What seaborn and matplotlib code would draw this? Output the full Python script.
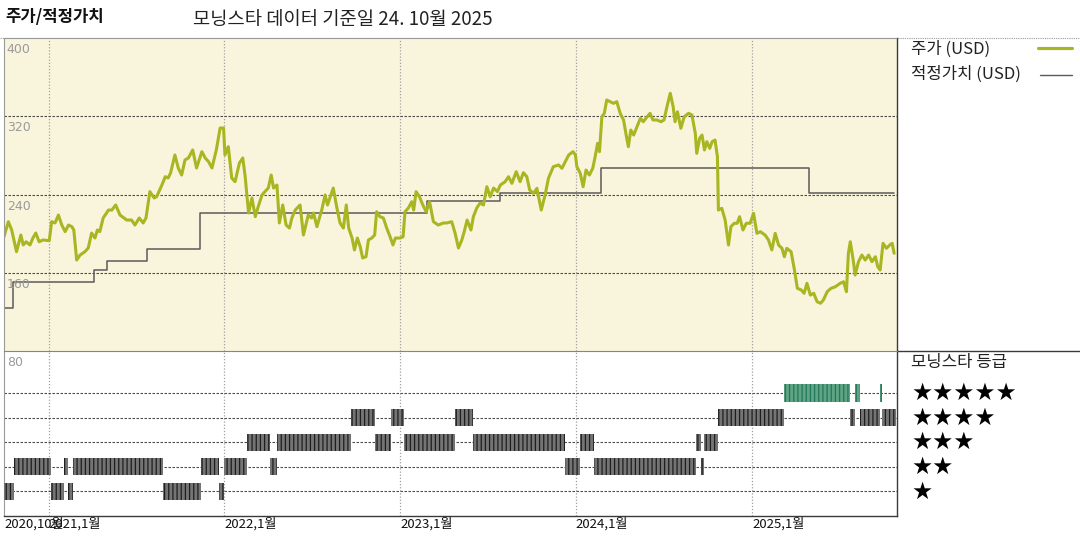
import matplotlib
matplotlib.use("Agg")
import matplotlib.pyplot as plt
import matplotlib.dates as mdates
import matplotlib.transforms as mtransforms
from matplotlib.lines import Line2D
import pandas as pd
import seaborn as sns

# ---------------- data ----------------
START_DATE = "2020-09-30"          # day 0 of all *_day arrays

price_day = [
    0, 9, 16, 26, 35, 40, 46, 54, 60, 66, 73, 81, 94, 99, 106, 113, 120, 127, 134, 141,
    145, 151, 158, 168, 175, 182, 189, 194, 199, 206, 217, 224, 232, 241, 255, 265, 272, 281, 289, 295,
    303, 312, 317, 328, 335, 341, 346, 355, 362, 369, 376, 383, 392, 400, 411, 418, 425, 432, 441, 449,
    456, 459, 466, 473, 480, 489, 496, 501, 508, 515, 522, 528, 536, 542, 549, 555, 560, 567, 572, 579,
    586, 593, 598, 605, 609, 615, 622, 632, 639, 643, 650, 660, 667, 672, 677, 684, 691, 698, 705, 711,
    716, 723, 728, 734, 740, 745, 752, 757, 764, 770, 774, 781, 788, 795, 802, 808, 813, 823, 829, 833,
    840, 847, 851, 856, 863, 870, 877, 884, 892, 902, 913, 920, 930, 937, 944, 951, 956, 962, 970, 975,
    982, 989, 996, 1003, 1010, 1017, 1025, 1031, 1041, 1048, 1055, 1064, 1072, 1079, 1086, 1092, 1100, 1107, 1116, 1124,
    1131, 1141, 1152, 1159, 1166, 1173, 1182, 1187, 1190, 1197, 1203, 1209, 1216, 1223, 1228, 1233, 1237, 1242, 1247, 1252,
    1259, 1266, 1273, 1280, 1287, 1293, 1297, 1302, 1308, 1315, 1322, 1328, 1336, 1342, 1348, 1356, 1365, 1371, 1378, 1384,
    1390, 1394, 1399, 1406, 1413, 1422, 1429, 1436, 1439, 1445, 1450, 1455, 1460, 1466, 1471, 1477, 1482, 1484, 1491, 1498,
    1505, 1510, 1517, 1523, 1528, 1535, 1542, 1550, 1557, 1564, 1571, 1581, 1588, 1595, 1602, 1609, 1616, 1621, 1626, 1635,
    1642, 1648, 1656, 1662, 1668, 1675, 1682, 1689, 1696, 1702, 1710, 1718, 1727, 1737, 1744, 1750, 1754, 1758, 1764, 1768,
    1775, 1782, 1789, 1796, 1803, 1810, 1815, 1820, 1826, 1833, 1840, 1845, 1849,
]
price_usd = [
    196.8, 212.2, 203.7, 181.5, 198.6, 188.4, 191.7, 188.4, 195.5, 200.6, 191.7, 193.5, 192.8, 212.2, 210.9, 219.0, 208.8, 202.0, 208.8, 207.1,
    203.7, 173.0, 178.1, 181.5, 185.3, 200.6, 195.5, 203.7, 202.0, 216.0, 224.1, 224.1, 229.3, 219.0, 213.9, 213.9, 208.8, 216.0, 210.9, 216.0,
    242.9, 236.4, 237.7, 249.7, 258.2, 256.9, 262.0, 280.4, 267.1, 259.9, 275.3, 277.3, 285.5, 267.1, 283.8, 277.3, 273.5, 267.1, 285.5, 308.0,
    308.0, 280.4, 288.9, 256.9, 253.1, 272.2, 277.3, 258.2, 221.1, 236.4, 217.3, 227.5, 239.5, 242.9, 246.6, 259.9, 246.6, 249.7, 210.9, 229.3,
    208.8, 205.7, 216.0, 224.1, 226.2, 229.3, 198.6, 219.0, 216.0, 221.1, 207.1, 224.1, 239.5, 229.3, 236.4, 246.6, 227.5, 210.9, 205.7, 229.3,
    205.7, 195.5, 183.3, 195.5, 186.6, 175.1, 176.4, 193.5, 195.5, 198.6, 222.4, 217.3, 216.0, 205.7, 196.8, 188.4, 195.5, 195.5, 196.8, 222.4,
    226.2, 232.6, 224.1, 242.9, 237.7, 229.3, 222.4, 232.6, 212.2, 208.8, 210.9, 210.9, 212.2, 200.6, 185.3, 193.5, 202.0, 213.9, 203.7, 217.3,
    226.2, 231.3, 229.3, 248.0, 237.7, 246.6, 242.9, 249.7, 253.1, 258.2, 251.4, 263.3, 253.1, 262.3, 258.2, 244.6, 241.2, 246.3, 224.1, 239.5,
    256.6, 268.4, 270.2, 266.8, 273.5, 280.4, 283.8, 280.4, 268.4, 261.7, 248.0, 265.0, 259.9, 266.8, 278.6, 292.3, 283.8, 319.5, 323.0, 336.6,
    334.9, 333.2, 334.9, 323.0, 316.2, 299.1, 288.9, 305.9, 300.8, 309.3, 317.9, 314.4, 319.5, 323.0, 316.2, 316.2, 314.4, 316.2, 331.5, 343.5,
    329.8, 314.4, 324.6, 307.7, 319.5, 323.0, 321.3, 302.6, 282.1, 297.5, 300.8, 285.5, 294.0, 287.2, 294.0, 295.7, 278.6, 224.1, 225.9, 213.9,
    188.4, 207.1, 210.6, 210.6, 217.3, 203.7, 210.6, 210.6, 220.8, 200.3, 202.0, 198.6, 193.5, 183.3, 200.3, 188.4, 185.0, 176.4, 185.0, 181.5,
    162.8, 144.1, 142.4, 139.0, 149.2, 137.2, 139.0, 130.4, 128.8, 132.1, 140.6, 144.1, 145.7, 149.2, 150.8, 140.6, 179.9, 191.7, 173.0, 157.7,
    171.3, 178.1, 173.0, 178.1, 171.3, 176.4, 166.2, 162.8, 190.1, 185.0, 188.4, 190.1, 179.9,
]

fair_day = [0, 19, 186, 213, 297, 407, 878, 1031, 1241, 1673, 1848]
fair_usd = [124, 151, 163, 172, 184, 221, 233, 242, 267, 242, 242]

# Morningstar star rating: rating_star[i] holds from rating_day[i] to rating_day[i+1]
rating_day = [0, 21, 97, 125, 133, 144, 331, 409, 446, 458, 505, 553, 568, 721, 770, 804, 831,
              936, 975, 1166, 1197, 1226, 1437, 1448, 1454, 1483, 1620, 1757, 1767, 1779, 1819, 1824, 1852]
rating_star = [1, 2, 1, 2, 1, 2, 1, 2, 1, 2, 3, 2, 3, 4, 3, 4, 3,
               4, 3, 2, 3, 2, 3, 2, 3, 4, 5, 4, 5, 4, 5, 4]

y_tick_values = [400, 320, 240, 160, 80]
x_tick_dates = ["2020-10-01", "2021-01-01", "2022-01-01", "2023-01-01", "2024-01-01", "2025-01-01"]
x_tick_labels = ["2020,10월", "2021,1월", "2022,1월", "2023,1월", "2024,1월", "2025,1월"]
year_grid_dates = ["2021-01-01", "2022-01-01", "2023-01-01", "2024-01-01", "2025-01-01"]

title_left = "주가/적정가치"
title_right = "모닝스타 데이터 기준일 24. 10월 2025"
legend_price = "주가 (USD)"
legend_fair = "적정가치 (USD)"
legend_rating = "모닝스타 등급"

# ---------------- style ----------------
sns.set_theme(style="white")
plt.rcParams["font.family"] = ["Noto Sans CJK KR", "DejaVu Sans"]
plt.rcParams["hatch.linewidth"] = 0.9

PRICE_COLOR = "#a8b622"
FAIR_COLOR = "#5a5a5a"
PANEL_BG = "#f9f5dc"
GRID_DASH = dict(color="#4a4a4a", linestyle=(0, (2.2, 1.4)), linewidth=0.8)
GRID_DOT = dict(color="#a0a0a0", linestyle=(0, (1, 1.5)), linewidth=0.9)

start = pd.Timestamp(START_DATE)
price_df = pd.DataFrame({"date": start + pd.to_timedelta(price_day, unit="D"), "price": price_usd})
fair_df = pd.DataFrame({"date": start + pd.to_timedelta(fair_day, unit="D"), "value": fair_usd})

W, H = 1080, 540
fig = plt.figure(figsize=(W / 100, H / 100), dpi=100)
fig.patch.set_facecolor("white")


def fx(p):
    return p / W


def fy(p):
    return 1 - p / H


L, R, T, MID, B = 4, 897, 38, 351, 516
ax1 = fig.add_axes([fx(L), fy(MID), fx(R) - fx(L), fy(T) - fy(MID)])
ax2 = fig.add_axes([fx(L), fy(B), fx(R) - fx(L), fy(MID) - fy(B)], sharex=ax1)
ax1.set_zorder(3)
ax1.set_facecolor(PANEL_BG)
ax2.set_facecolor("white")

# ---------------- top panel: price and fair value ----------------
sns.lineplot(data=fair_df, x="date", y="value", ax=ax1, drawstyle="steps-post",
             color=FAIR_COLOR, linewidth=1.1, estimator=None, legend=False)
sns.lineplot(data=price_df, x="date", y="price", ax=ax1, color=PRICE_COLOR,
             linewidth=2.2, estimator=None, legend=False)

ax1.set_xlim(pd.Timestamp("2020-09-30"), pd.Timestamp("2025-10-29"))
ax1.set_ylim(80, 400)
ax1.set_yticks([160, 240, 320])
ax1.grid(axis="y", which="major", **GRID_DASH)
ax1.set_xlabel("")
ax1.set_ylabel("")
ax1.tick_params(axis="y", left=False, labelleft=False)
ax1.tick_params(axis="x", which="both", bottom=False, labelbottom=False)

ylab_tf = mtransforms.offset_copy(
    mtransforms.blended_transform_factory(ax1.transAxes, ax1.transData), fig=fig, x=0, y=-5, units="dots")
for v in y_tick_values:
    ax1.text(0.003, v, str(v), transform=ylab_tf, ha="left", va="top", fontsize=9,
             color="#9a9a9a", family="DejaVu Sans", clip_on=False)

# ---------------- bottom panel: star ratings ----------------
for i, r in enumerate(rating_star):
    s = mdates.date2num(start + pd.Timedelta(days=rating_day[i]))
    e = mdates.date2num(start + pd.Timedelta(days=rating_day[i + 1]))
    if r == 5:
        face, stripe = "#5fa484", "#24765a"
    else:
        face, stripe = "#747474", "#1e1e1e"
    ax2.bar(s, 0.7, width=e - s, bottom=r - 0.35, align="edge", color=face,
            edgecolor=stripe, hatch="||||", linewidth=0, zorder=3)

ax2.set_ylim(0, 6.71)
ax2.set_yticks([1, 2, 3, 4, 5])
ax2.grid(axis="y", which="major", **GRID_DASH)
ax2.tick_params(axis="y", left=False, labelleft=False)

# shared x ticks: labelled months + yearly grid
ax2.set_xticks(pd.to_datetime(x_tick_dates))
ax2.set_xticklabels(x_tick_labels, ha="left")
ax2.set_xticks(pd.to_datetime(year_grid_dates), minor=True)
for ax in (ax1, ax2):
    ax.xaxis.remove_overlapping_locs = False
    ax.grid(axis="x", which="minor", **GRID_DOT)
    ax.grid(axis="x", which="major", visible=False)
ax2.tick_params(axis="x", which="both", length=0, pad=1, labelsize=9.5, labelcolor="#111111")
ax2.set_xlabel("")
ax2.set_ylabel("")

# ---------------- spines ----------------
for ax in (ax1, ax2):
    ax.spines["left"].set_color("#9a9a9a")
    ax.spines["left"].set_linestyle((0, (1, 1)))
    ax.spines["left"].set_linewidth(0.8)
    ax.spines["right"].set_color("#3a3a3a")
    ax.spines["right"].set_linewidth(1.0)
ax1.spines["top"].set_color("#9a9a9a")
ax1.spines["top"].set_linestyle((0, (1, 1)))
ax1.spines["top"].set_linewidth(0.8)
ax1.spines["bottom"].set_color("#8a8670")
ax1.spines["bottom"].set_linewidth(0.8)
ax2.spines["top"].set_visible(False)
ax2.spines["bottom"].set_color("#3a3a3a")
ax2.spines["bottom"].set_linewidth(1.0)

# frame lines outside the plot area
fig.add_artist(Line2D([0, 1], [fy(37.5), fy(37.5)], transform=fig.transFigure,
                      color="#9a9a9a", linestyle=(0, (1, 1)), linewidth=0.8))
fig.add_artist(Line2D([fx(R), 1], [fy(MID), fy(MID)], transform=fig.transFigure,
                      color="#3a3a3a", linewidth=1.0))

# ---------------- titles ----------------
fig.text(fx(5), fy(17), title_left, ha="left", va="center", fontsize=12, fontweight="bold", color="#111111")
fig.text(fx(193), fy(20), title_right, ha="left", va="center", fontsize=13.5, color="#222222")

# ---------------- legend (right column) ----------------
fig.text(fx(911), fy(49), legend_price, ha="left", va="center", fontsize=12, color="#222222")
fig.add_artist(Line2D([fx(1038), fx(1072)], [fy(48), fy(48)], transform=fig.transFigure,
                      color=PRICE_COLOR, linewidth=2.3))
fig.text(fx(911), fy(74), legend_fair, ha="left", va="center", fontsize=12, color="#222222")
fig.add_artist(Line2D([fx(1040), fx(1072)], [fy(75), fy(75)], transform=fig.transFigure,
                      color=FAIR_COLOR, linewidth=1.0))

fig.text(fx(911), fy(363), legend_rating, ha="left", va="center", fontsize=12, color="#222222")
star_tf = mtransforms.blended_transform_factory(fig.transFigure, ax2.transData)
for n in [5, 4, 3, 2, 1]:
    fig.text(fx(911), n, "★" * n, transform=star_tf, ha="left", va="center",
             fontsize=17, color="#000000", family="DejaVu Sans")

fig.savefig("out.png", dpi=100, facecolor="white")
